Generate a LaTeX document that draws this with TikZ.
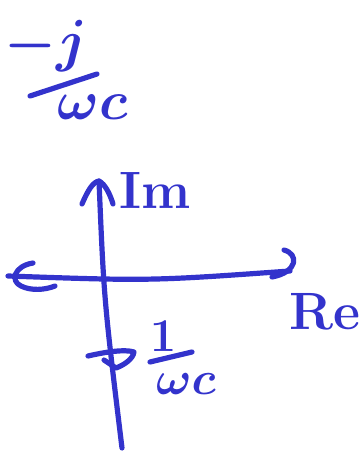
\documentclass[tikz,border=0pt]{standalone}
\usepackage{amsmath}
\definecolor{penc}{RGB}{51,51,204}
\begin{document}
\begin{tikzpicture}[x=0.75pt,y=-0.75pt,
  pen/.style={draw=penc, line width=3.9pt, line cap=round, line join=round},
  lab/.style={text=penc, inner sep=0pt, font=\huge\bfseries\boldmath}]
\useasboundingbox (0,0) rectangle (360,454);
\coordinate (top) at (99,181);
\coordinate (bot) at (122,448);
\coordinate (lft) at (8,276);
\coordinate (rgt) at (290,271);
% imaginary axis
\draw[pen] (top) .. controls (104,300) .. (bot);
\draw[pen] (82,204) .. controls (88,190) and (93,182) .. (top) .. controls (105,184) and (110,194) .. (113,204);
% real axis
\draw[pen] (lft) .. controls (150,281) .. (rgt);
\draw[pen] (33,263) .. controls (14,266) and (10,281) .. (21,286) .. controls (31,291) and (45,290) .. (55,286);
\draw[pen] (284,250) .. controls (299,254) and (298,272) .. (272,277);
% phasor arrowhead
\draw[pen] (88,356) .. controls (105,352) and (125,349) .. (134,352) .. controls (133,359) and (124,365) .. (116,368) -- (104,360);
% labels
\node[lab, scale=1.9] (im) at (155,190) {Im};
\node[lab, scale=1.9] (re) at (325,312) {Re};
% -j / wc
\node[lab, scale=2.1] (n1) at (46,46) {$-j$};
\coordinate (b1a) at (30,96);
\coordinate (b1b) at (97,74);
\draw[pen] (b1a) -- (b1b);
\node[lab, scale=2.0] (d1) at (93,107) {$\omega c$};
% 1 / wc
\node[lab, scale=1.7] (n2) at (163,336) {$1$};
\coordinate (b2a) at (150,362);
\coordinate (b2b) at (192,352);
\draw[pen] (b2a) -- (b2b);
\node[lab, scale=1.7] (d2) at (186,384) {$\omega c$};
\end{tikzpicture}
\end{document}
